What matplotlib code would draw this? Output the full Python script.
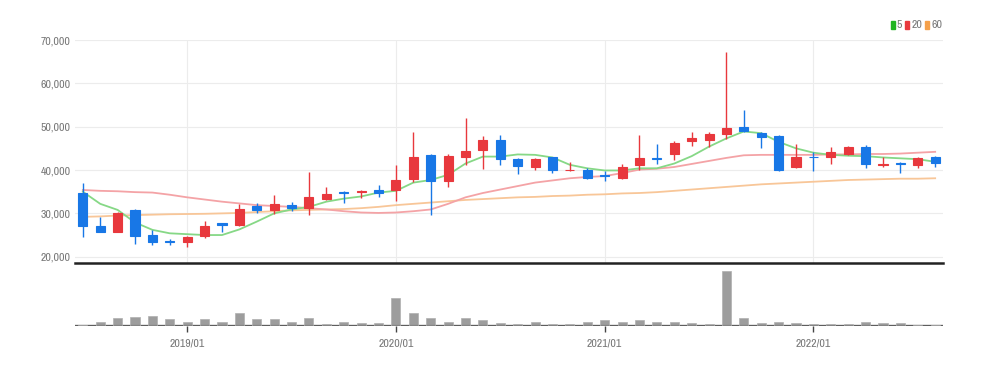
import numpy as np
import matplotlib
matplotlib.use('Agg')
import matplotlib.pyplot as plt
from matplotlib.patches import Rectangle

# monthly candles, 2018/07 .. 2022/08
months = ['2018/07', '2018/08', '2018/09', '2018/10', '2018/11', '2018/12',
          '2019/01', '2019/02', '2019/03', '2019/04', '2019/05', '2019/06',
          '2019/07', '2019/08', '2019/09', '2019/10', '2019/11', '2019/12',
          '2020/01', '2020/02', '2020/03', '2020/04', '2020/05', '2020/06',
          '2020/07', '2020/08', '2020/09', '2020/10', '2020/11', '2020/12',
          '2021/01', '2021/02', '2021/03', '2021/04', '2021/05', '2021/06',
          '2021/07', '2021/08', '2021/09', '2021/10', '2021/11', '2021/12',
          '2022/01', '2022/02', '2022/03', '2022/04', '2022/05', '2022/06',
          '2022/07', '2022/08']

opens = [34600, 27000, 25800, 30800, 25000, 23600, 23500, 24700, 27700, 27300,
         31600, 30800, 31900, 31200, 33400, 35000, 34900, 35400, 35400, 38000,
         43500, 37500, 43100, 44600, 46900, 42500, 40600, 42900, 39900, 40000,
         38900, 38100, 41200, 42800, 43700, 46600, 46900, 48300, 50000, 48600,
         47900, 40600, 43100, 43100, 43700, 45200, 41200, 41600, 41200, 42900]
highs = [37000, 29200, 30300, 31000, 26200, 24100, 24800, 28300, 27800, 32200,
         32300, 34200, 32600, 39600, 36100, 35100, 35400, 36500, 41200, 48800,
         43700, 43600, 51900, 47800, 48100, 42700, 42700, 43100, 41800, 40500,
         39800, 41400, 48100, 46000, 46700, 48800, 48800, 67300, 53800, 48800,
         48100, 46000, 44200, 45400, 45500, 45800, 43100, 41800, 43000, 43300]
lows = [24600, 25600, 25600, 22900, 22700, 22800, 22300, 24400, 25800, 27000,
        30000, 29800, 30600, 29600, 33000, 32300, 33500, 33700, 32900, 37300,
        29600, 36000, 41200, 40200, 41200, 39100, 39900, 39300, 39800, 38000,
        37500, 37900, 40000, 41400, 42200, 45500, 45200, 47100, 48700, 45000,
        39800, 40400, 39800, 41400, 43500, 40400, 40800, 39200, 40400, 40800]
closes = [27100, 25800, 30000, 24800, 23500, 23400, 24600, 27100, 27400, 31000,
          30800, 32200, 31200, 33700, 34500, 34800, 35100, 34700, 37700, 42900,
          37500, 43300, 44400, 46900, 42500, 40900, 42600, 40000, 40100, 38100,
          38700, 40800, 42700, 42600, 46200, 47300, 48300, 49600, 49100, 47700,
          40000, 43100, 42900, 44200, 45400, 41500, 41500, 41400, 42700, 41600]

ma5 = [35000, 32200, 30800, 27900, 26200, 25400, 25200, 25000, 25000, 26300,
       28100, 30000, 30900, 31500, 32700, 33400, 33900, 34800, 35200, 37100,
       37700, 38900, 41500, 43100, 43100, 43600, 43500, 42900, 41200, 40400,
       39900, 39900, 40400, 40400, 41500, 43200, 45400, 47300, 48900, 48500,
       46500, 45000, 44000, 43500, 43300, 43200, 42900, 42700, 42500, 41900]
ma20 = [35400, 35200, 35100, 34900, 34800, 34300, 33700, 33200, 32700, 32300,
        31900, 31700, 31500, 31200, 30900, 30500, 30200, 30100, 30200, 30500,
        30900, 32200, 33700, 34700, 35500, 36300, 37100, 37600, 38100, 38400,
        38600, 39300, 40100, 40300, 40700, 41400, 42100, 42800, 43400, 43500,
        43500, 43500, 43500, 43600, 43600, 43700, 43700, 43800, 44000, 44200]
ma60 = [29200, 29300, 29500, 29600, 29700, 29800, 29850, 29900, 30000, 30100,
        30300, 30500, 30700, 30800, 30900, 31000, 31200, 31500, 31900, 32200,
        32500, 32800, 33100, 33300, 33500, 33700, 33800, 34000, 34100, 34300,
        34400, 34600, 34700, 34900, 35200, 35500, 35800, 36100, 36400, 36700,
        36900, 37100, 37300, 37500, 37700, 37800, 37900, 38000, 38000, 38100]

volume = [2, 7, 15, 16, 18, 13, 8, 12, 7, 24,
          12, 12, 7, 15, 4, 7, 6, 6, 50, 24,
          15, 7, 15, 10, 5, 4, 7, 4, 4, 8,
          10, 8, 10, 7, 8, 5, 4, 100, 15, 5,
          7, 5, 4, 4, 4, 7, 5, 5, 2, 2]

year_ticks = ['2019/01', '2020/01', '2021/01', '2022/01']
ma_names = ['5', '20', '60']

UP = '#e8383d'
DOWN = '#1877e6'
MA_COLORS = ['#86d886', '#f4a3a6', '#f8c698']
LEGEND_COLORS = ['#22b422', '#e8383d', '#f5a04a']
TXT = '#777777'
narrow = ['Archivo Narrow', 'DejaVu Sans']

W, H = 991, 366
fig = plt.figure(figsize=(W / 100, H / 100), dpi=100)
left, right = 75 / W, 943 / W
ax = fig.add_axes([left, 1 - 263 / H, right - left, (263 - 40) / H])
axv = fig.add_axes([left, 1 - 326 / H, right - left, (326 - 266) / H])

x = np.arange(len(months))
o = np.array(opens)
c = np.array(closes)
colors = [UP if cc >= oo else DOWN for oo, cc in zip(o, c)]

# moving averages (behind candles)
for vals, col in zip([ma60, ma20, ma5], MA_COLORS[::-1]):
    ax.plot(x, vals, color=col, lw=1.3, zorder=2)

ax.vlines(x, lows, highs, colors=colors, lw=1.0, zorder=3)
ax.bar(x, np.abs(c - o), bottom=np.minimum(o, c), width=0.52,
       color=colors, edgecolor=colors, linewidth=0.8, zorder=4)

ax.set_xlim(-0.45, len(months) - 0.55)
ax.set_ylim(18550, 70000)
ax.set_yticks([20000, 30000, 40000, 50000, 60000, 70000])
ax.set_yticklabels(['{:,}'.format(v) for v in ax.get_yticks()],
                   family=narrow, fontsize=8.5, color=TXT)
tick_idx = [months.index(t) for t in year_ticks]
ax.set_xticks(tick_idx)
ax.set_xticklabels([])
ax.tick_params(axis='both', length=0, pad=3)
ax.grid(True, color='#ececec', lw=0.8)
ax.set_axisbelow(True)
for s in ['top', 'left', 'right']:
    ax.spines[s].set_visible(False)
ax.spines['bottom'].set_color('#222222')
ax.spines['bottom'].set_linewidth(1.8)

# legend, laid out right to left from the plot's right edge
fig.canvas.draw()
r = fig.canvas.get_renderer()
lx = 942
ly = 25
for name, col in reversed(list(zip(ma_names, LEGEND_COLORS))):
    t = fig.text(lx / W, 1 - ly / H, name, color=TXT, fontsize=8.5,
                 va='center', ha='right', family=narrow)
    tw = t.get_window_extent(r).width
    fig.patches.append(Rectangle(((lx - tw - 6) / W, 1 - (ly + 4) / H),
                                 4 / W, 8 / H, transform=fig.transFigure,
                                 color=col, figure=fig))
    lx -= tw + 9

# volume: baseline under semi-transparent bars so the overlap reads darker
axv.axhline(0, color='#5e5e5e', lw=2.4, zorder=1)
axv.bar(x, volume, width=0.52, color='#8c8c8c', alpha=0.85,
        edgecolor='#b0b0b0', linewidth=0.6, zorder=2)
axv.set_xlim(ax.get_xlim())
axv.set_ylim(0, 109)
axv.set_yticks([])
axv.set_xticks(tick_idx)
axv.set_xticklabels(year_ticks, family=narrow, fontsize=8.5, color=TXT)
axv.tick_params(axis='x', length=4, width=1, color='#444444', pad=5)
for s in axv.spines.values():
    s.set_visible(False)

fig.savefig('out.png', dpi=100, facecolor='white')
